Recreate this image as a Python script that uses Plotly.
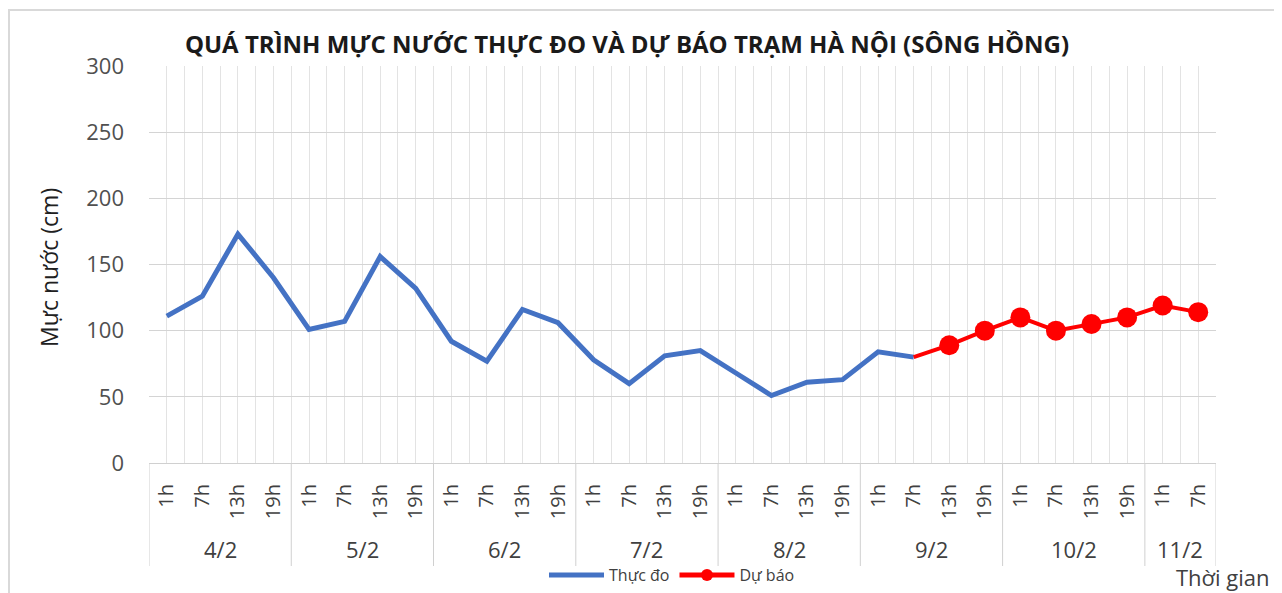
import plotly.graph_objects as go

# ---------------- data ----------------
dates = ["4/2", "5/2", "6/2", "7/2", "8/2", "9/2", "10/2", "11/2"]
hours_per_date = [["1h", "7h", "13h", "19h"]] * 7 + [["1h", "7h"]]

observed = [111, 126, 173, 140,
            101, 107, 156, 132,
            92, 77, 116, 106,
            78, 60, 81, 85,
            68, 51, 61, 63,
            84, 80]
forecast_start_index = 21  # 9/2 7h
forecast = [80, 89, 100, 110, 100, 105, 110, 119, 114]

title_text = "QUÁ TRÌNH MỰC NƯỚC THỰC ĐO VÀ DỰ BÁO TRẠM HÀ NỘI (SÔNG HỒNG)"
y_title = "Mực nước (cm)"
x_title = "Thời gian"
series_names = ["Thực đo", "Dự báo"]

# ---------------- derived ----------------
hour_labels = [h for hs in hours_per_date for h in hs]
n = len(hour_labels)
xs = list(range(n))
obs_x = xs[:len(observed)]
fc_x = xs[forecast_start_index:forecast_start_index + len(forecast)]

group_bounds = []
start = 0
for hs in hours_per_date:
    group_bounds.append((start, start + len(hs) - 1))
    start += len(hs)

FONT = "Open Sans"
OFF = 8  # page body margin
W, H = 1282 - OFF, 593 - OFF
# plot area in page pixels: x 149..1216, y 66..463
L = 149 - OFF
T = 66 - OFF
R = W - (1216 - OFF)
B = H - (463 - OFF)
PW, PH = W - L - R, H - T - B


def px_x(px):
    return (px - OFF - L) / PW


def px_y(py):
    return (H - B - (py - OFF)) / PH


fig = go.Figure()
fig.add_trace(go.Scatter(
    x=obs_x, y=observed, mode="lines", name=series_names[0],
    line=dict(color="#4472C4", width=5),
))
fig.add_trace(go.Scatter(
    x=fc_x, y=forecast, mode="lines+markers", name=series_names[1],
    line=dict(color="#FF0000", width=4),
    marker=dict(color="#FF0000", opacity=1,
                size=[0] + [20] * (len(forecast) - 1),
                line=dict(width=0)),
))

boundaries = [i - 0.5 for i in range(n + 1)]

fig.update_xaxes(
    range=[-0.5, n - 0.5],
    tickmode="array", tickvals=xs, ticktext=hour_labels,
    tickangle=-90, ticks="", showgrid=True, gridcolor="#e3e3e3", gridwidth=1,
    minor=dict(tickmode="array", tickvals=boundaries, showgrid=True,
               gridcolor="#e3e3e3", gridwidth=1, ticks=""),
    tickfont=dict(family=FONT, size=20, color="#404040"),
    ticklabelstandoff=12, automargin=False,
    showline=True, linecolor="#d0d0d0", linewidth=1,
    zeroline=False, fixedrange=True,
)
fig.update_yaxes(
    range=[0, 300], tickmode="linear", tick0=0, dtick=50,
    showgrid=True, gridcolor="#d4d4d4", gridwidth=1,
    tickfont=dict(family=FONT, size=22, color="#505050"),
    ticks="", ticklabelstandoff=24, zeroline=False, showline=False,
    automargin=False,
)

shapes = []
div_positions = [b[0] - 0.5 for b in group_bounds] + [n - 0.5]
for d in div_positions:
    shapes.append(dict(type="line", xref="x", yref="paper", x0=d, x1=d,
                       y0=0, y1=px_y(566), line=dict(color="#d0d0d0", width=1)))
# outer chart border (left and top edges visible)
shapes.append(dict(type="rect", xref="paper", yref="paper",
                   x0=px_x(9), x1=px_x(1300), y0=px_y(10), y1=px_y(610),
                   line=dict(color="#d9d9d9", width=2), layer="below"))

annotations = []
for d, (a, b) in zip(dates, group_bounds):
    annotations.append(dict(x=(a + b) / 2, y=px_y(549), xref="x", yref="paper",
                            text=d, showarrow=False,
                            font=dict(family=FONT, size=22, color="#404040"),
                            xanchor="center", yanchor="middle"))
annotations.append(dict(x=px_x(1272), y=px_y(577), xref="paper", yref="paper",
                        text=x_title, showarrow=False,
                        font=dict(family=FONT, size=22, color="#404040"),
                        xanchor="right", yanchor="middle"))
annotations.append(dict(x=px_x(49), y=px_y(268), xref="paper", yref="paper",
                        text=y_title, textangle=-90, showarrow=False,
                        font=dict(family=FONT, size=23, color="#202020"),
                        xanchor="center", yanchor="middle"))

fig.update_layout(
    width=W, height=H,
    margin=dict(l=L, r=R, t=T, b=B, autoexpand=False),
    paper_bgcolor="white", plot_bgcolor="white",
    title=dict(text="<b>" + title_text + "</b>",
               x=(627 - OFF) / W, xanchor="center",
               y=1 - (45 - OFF) / H, yanchor="middle",
               font=dict(family=FONT, size=24, color="#1a1a1a")),
    showlegend=True,
    legend=dict(orientation="h", x=px_x(672), xanchor="center",
                y=px_y(558), yanchor="top", itemsizing="constant",
                font=dict(family=FONT, size=16, color="#404040"),
                bgcolor="rgba(0,0,0,0)", itemwidth=55),
    shapes=shapes, annotations=annotations,
)

fig.write_html("out.html")
